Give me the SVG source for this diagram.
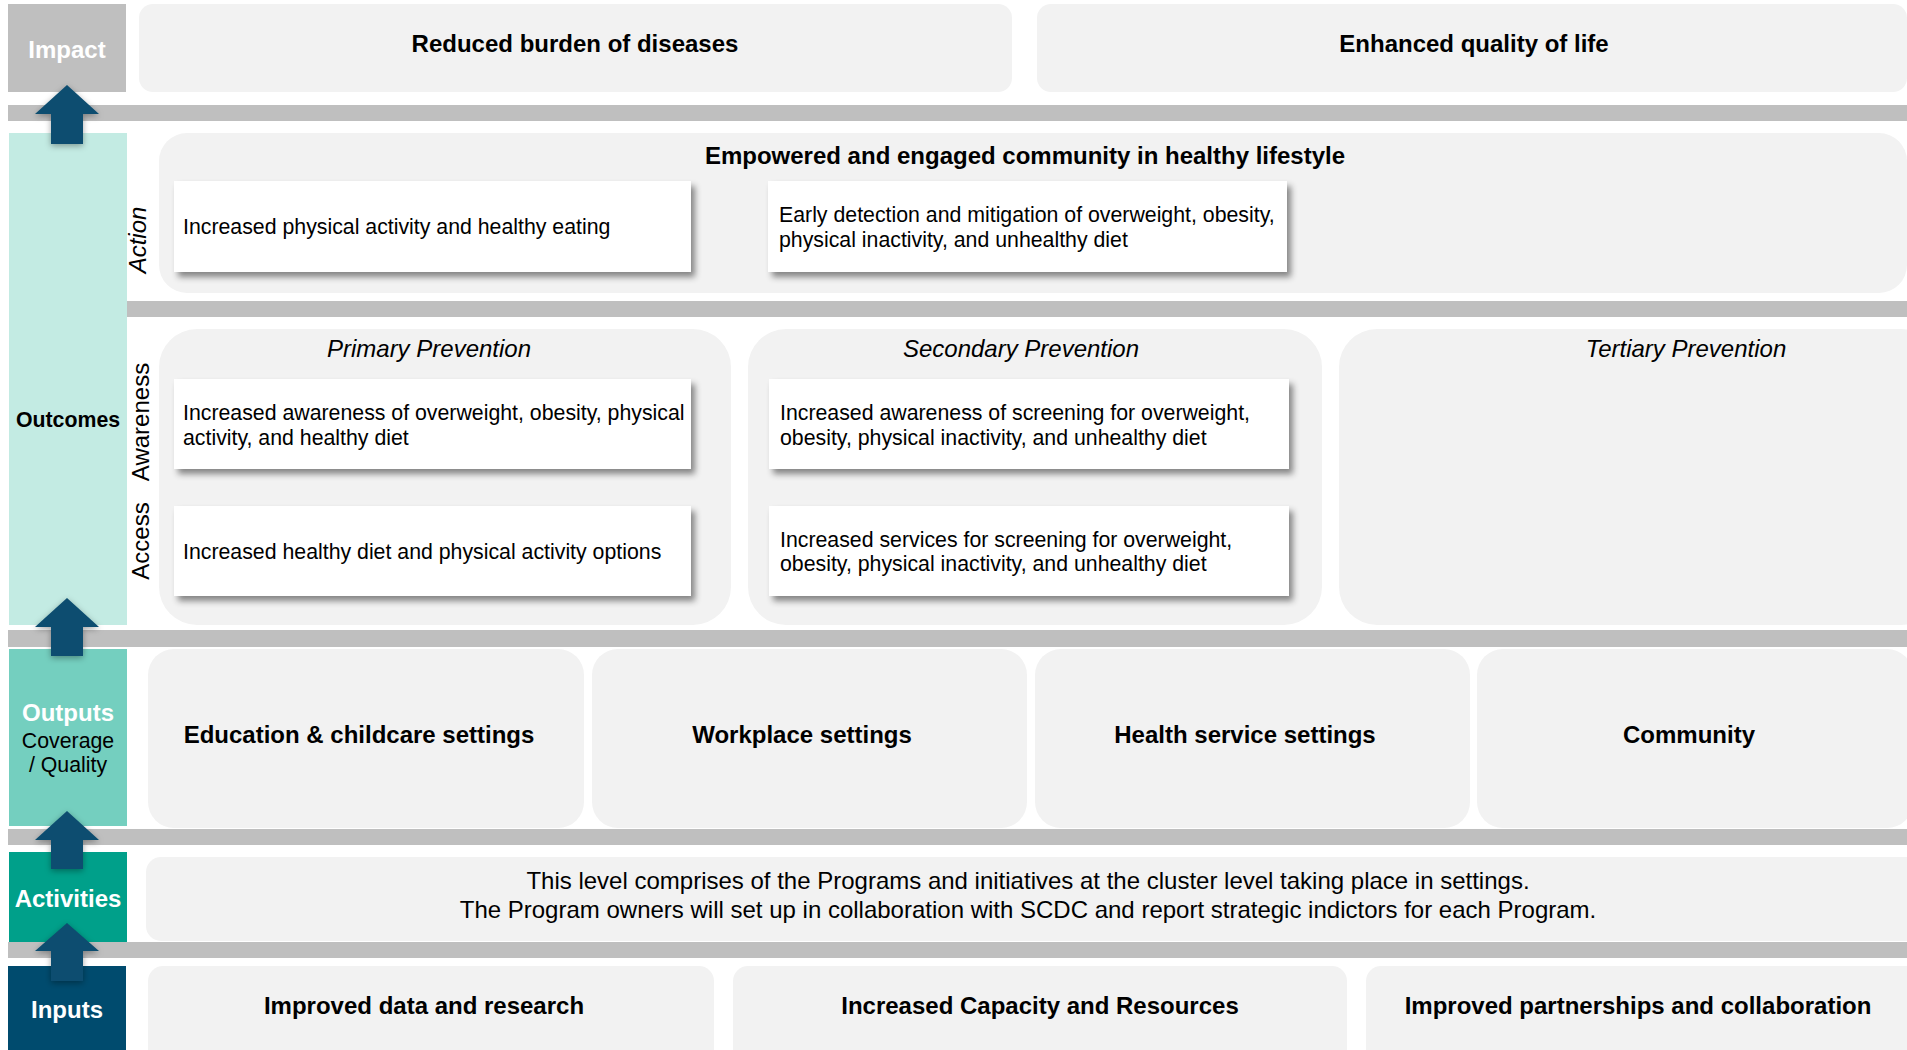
<svg xmlns="http://www.w3.org/2000/svg" width="1907" height="1050" viewBox="0 0 1907 1050">
  <style>
    text { font-family: "Liberation Sans", Arial, sans-serif; fill: #000; }
    .band { fill: #BFBFBF; }
    .panel { fill: #F2F2F2; }
    .card { fill: #FFFFFF; filter: url(#cardShadow); }
    .title { font-size: 24px; font-weight: bold; text-anchor: middle; }
    .lbl { font-size: 24px; font-weight: bold; text-anchor: middle; fill: #FFFFFF; }
    .body { font-size: 21.3px; }
    .center { text-anchor: middle; }
    .side { font-size: 24px; text-anchor: middle; }
    .ital { font-style: italic; }
    .arrow { fill: #0B4D6F; filter: url(#arrowShadow); }
  </style>
  <defs>
    <filter id="cardShadow" x="-5%" y="-10%" width="115%" height="130%">
      <feDropShadow dx="4" dy="5" stdDeviation="3" flood-color="#000" flood-opacity="0.45"/>
    </filter>
    <filter id="arrowShadow" x="-30%" y="-30%" width="160%" height="160%">
      <feDropShadow dx="0" dy="2" stdDeviation="3" flood-color="#000" flood-opacity="0.35"/>
    </filter>
  </defs>

  <!-- bands -->
  <g id="bands">
    <rect class="band" x="8" y="105" width="1899" height="16"/>
    <rect class="band" x="127" y="301" width="1780" height="16"/>
    <rect class="band" x="8" y="630" width="1899" height="17"/>
    <rect class="band" x="8" y="829" width="1899" height="16"/>
    <rect class="band" x="8" y="942" width="1899" height="16"/>
  </g>

  <!-- level labels -->
  <g id="impact-label">
    <rect x="8" y="4" width="118" height="88" fill="#BFBFBF"/>
    <text class="lbl" x="67" y="58">Impact</text>
  </g>
  <g id="outcomes-label">
    <rect x="9" y="133" width="118" height="492" fill="#C3EBE3"/>
    <text x="68" y="427" font-size="21.3" font-weight="bold" text-anchor="middle">Outcomes</text>
  </g>
  <g id="outputs-label">
    <rect x="9" y="649" width="118" height="177" fill="#74CFBF"/>
    <text class="lbl" x="68" y="721">Outputs</text>
    <text class="body center" x="68" y="748">Coverage</text>
    <text class="body center" x="68" y="772">/ Quality</text>
  </g>
  <g id="activities-label">
    <rect x="9" y="852" width="118" height="90" fill="#00A08A"/>
    <text class="lbl" x="68" y="907">Activities</text>
  </g>
  <g id="inputs-label">
    <rect x="8" y="966" width="118" height="84" fill="#004B6E"/>
    <text class="lbl" x="67" y="1018">Inputs</text>
  </g>

  <!-- Impact row -->
  <g id="impact-1">
    <rect class="panel" x="139" y="4" width="873" height="88" rx="14"/>
    <text class="title" x="575" y="52">Reduced burden of diseases</text>
  </g>
  <g id="impact-2">
    <rect class="panel" x="1037" y="4" width="870" height="88" rx="14"/>
    <text class="title" x="1474" y="52">Enhanced quality of life</text>
  </g>

  <!-- Action row -->
  <g id="action">
    <rect class="panel" x="159" y="133" width="1748" height="160" rx="28"/>
    <text class="title" x="1025" y="164">Empowered and engaged community in healthy lifestyle</text>
    <text class="side ital" transform="translate(146 240) rotate(-90)">Action</text>
  </g>
  <g id="action-1">
    <rect class="card" x="174" y="181" width="517" height="91"/>
    <text class="body" x="183" y="234">Increased physical activity and healthy eating</text>
  </g>
  <g id="action-2">
    <rect class="card" x="768" y="181" width="519" height="91"/>
    <text class="body" x="779" y="222">Early detection and mitigation of overweight, obesity,</text>
    <text class="body" x="779" y="247">physical inactivity, and unhealthy diet</text>
  </g>

  <!-- side labels -->
  <g id="side-labels">
    <text class="side" transform="translate(149 422) rotate(-90)">Awareness</text>
    <text class="side" transform="translate(149 541) rotate(-90)">Access</text>
  </g>

  <!-- Prevention panels -->
  <g id="primary">
    <rect class="panel" x="159" y="329" width="572" height="296" rx="38"/>
    <text class="side ital" x="429" y="357">Primary Prevention</text>
  </g>
  <g id="secondary">
    <rect class="panel" x="748" y="329" width="574" height="296" rx="38"/>
    <text class="side ital" x="1021" y="357">Secondary Prevention</text>
  </g>
  <g id="tertiary">
    <rect class="panel" x="1339" y="329" width="600" height="296" rx="38"/>
    <text class="side ital" x="1686" y="357">Tertiary Prevention</text>
  </g>
  <g id="primary-awareness">
    <rect class="card" x="174" y="379" width="517" height="90"/>
    <text class="body" x="183" y="420">Increased awareness of overweight, obesity, physical</text>
    <text class="body" x="183" y="445">activity, and healthy diet</text>
  </g>
  <g id="primary-access">
    <rect class="card" x="174" y="506" width="517" height="90"/>
    <text class="body" x="183" y="559">Increased healthy diet and physical activity options</text>
  </g>
  <g id="secondary-awareness">
    <rect class="card" x="769" y="379" width="520" height="90"/>
    <text class="body" x="780" y="420">Increased awareness of screening for overweight,</text>
    <text class="body" x="780" y="445">obesity, physical inactivity, and unhealthy diet</text>
  </g>
  <g id="secondary-access">
    <rect class="card" x="769" y="506" width="520" height="90"/>
    <text class="body" x="780" y="547">Increased services for screening for overweight,</text>
    <text class="body" x="780" y="571">obesity, physical inactivity, and unhealthy diet</text>
  </g>

  <!-- Outputs row -->
  <g id="out-education">
    <rect class="panel" x="148" y="649" width="436" height="179" rx="26"/>
    <text class="title" x="359" y="743">Education &amp; childcare settings</text>
  </g>
  <g id="out-workplace">
    <rect class="panel" x="592" y="649" width="435" height="179" rx="26"/>
    <text class="title" x="802" y="743">Workplace settings</text>
  </g>
  <g id="out-health">
    <rect class="panel" x="1035" y="649" width="435" height="179" rx="26"/>
    <text class="title" x="1245" y="743">Health service settings</text>
  </g>
  <g id="out-community">
    <rect class="panel" x="1477" y="649" width="436" height="179" rx="26"/>
    <text class="title" x="1689" y="743">Community</text>
  </g>

  <!-- Activities row -->
  <g id="activities">
    <rect class="panel" x="146" y="857" width="1775" height="84" rx="15"/>
    <text class="center" font-size="24" x="1028" y="889">This level comprises of the Programs and initiatives at the cluster level taking place in settings.</text>
    <text class="center" font-size="24" x="1028" y="918">The Program owners will set up in collaboration with SCDC and report strategic indictors for each Program.</text>
  </g>

  <!-- Inputs row -->
  <g id="in-data">
    <rect class="panel" x="148" y="966" width="566" height="100" rx="15"/>
    <text class="title" x="424" y="1014">Improved data and research</text>
  </g>
  <g id="in-capacity">
    <rect class="panel" x="733" y="966" width="614" height="100" rx="15"/>
    <text class="title" x="1040" y="1014">Increased Capacity and Resources</text>
  </g>
  <g id="in-partnerships">
    <rect class="panel" x="1366" y="966" width="560" height="100" rx="15"/>
    <text class="title" x="1638" y="1014">Improved partnerships and collaboration</text>
  </g>

  <!-- connectors -->
  <g id="connectors">
    <path class="arrow" d="M67,85 L99,114 L83,114 L83,144 L51,144 L51,114 L35,114 Z"/>
    <path class="arrow" d="M67,598 L99,627 L83,627 L83,656 L51,656 L51,627 L35,627 Z"/>
    <path class="arrow" d="M67,811 L99,840 L83,840 L83,869 L51,869 L51,840 L35,840 Z"/>
    <path class="arrow" d="M67,923 L99,951 L83,951 L83,981 L51,981 L51,951 L35,951 Z"/>
  </g>
</svg>
